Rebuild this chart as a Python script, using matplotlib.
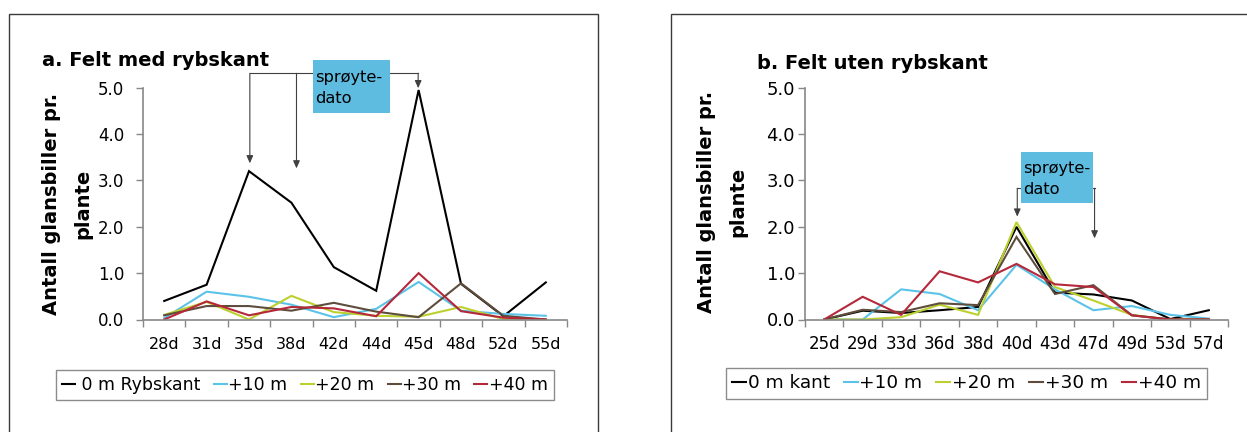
import matplotlib
matplotlib.use('Agg')
import matplotlib.pyplot as plt
from matplotlib.patches import Rectangle
import numpy as np

# ---------------- data ----------------
cats_a = ['28d', '31d', '35d', '38d', '42d', '44d', '45d', '48d', '52d', '55d']
a_0m = [0.40, 0.75, 3.20, 2.52, 1.13, 0.62, 4.95, 0.77, 0.07, 0.80]
a_10 = [0.03, 0.60, 0.49, 0.32, 0.05, 0.23, 0.81, 0.19, 0.12, 0.08]
a_20 = [0.10, 0.38, 0.00, 0.51, 0.16, 0.08, 0.06, 0.27, 0.01, 0.00]
a_30 = [0.09, 0.29, 0.29, 0.19, 0.36, 0.17, 0.05, 0.78, 0.08, 0.00]
a_40 = [0.00, 0.39, 0.09, 0.27, 0.24, 0.07, 1.00, 0.18, 0.04, 0.00]
labels_a = [' 0 m Rybskant', '+10 m', '+20 m', '+30 m', '+40 m']

cats_b = ['25d', '29d', '33d', '36d', '38d', '40d', '43d', '47d', '49d', '53d', '57d']
b_0m = [0.00, 0.19, 0.14, 0.20, 0.27, 2.00, 0.58, 0.54, 0.41, 0.01, 0.20]
b_10 = [0.00, 0.00, 0.65, 0.55, 0.20, 1.18, 0.65, 0.20, 0.29, 0.10, 0.02]
b_20 = [0.00, 0.00, 0.05, 0.32, 0.10, 2.10, 0.70, 0.41, 0.10, 0.00, 0.00]
b_30 = [0.00, 0.21, 0.16, 0.35, 0.31, 1.78, 0.55, 0.74, 0.09, 0.00, 0.00]
b_40 = [0.00, 0.49, 0.10, 1.04, 0.80, 1.20, 0.76, 0.70, 0.09, 0.00, 0.00]
labels_b = ['0 m kant', '+10 m', '+20 m', '+30 m', '+40 m']

colors = ['#000000', '#5BC3E8', '#BCD02E', '#5E4D3C', '#B5283A']
yticks = [0, 1, 2, 3, 4, 5]

# spray-date annotation positions (category index, value)
spray_a = [(2.02, 3.37), (3.12, 3.26), (5.99, 4.99)]
spray_a_bracket = 5.31
spray_b = [(5.02, 2.22), (7.03, 1.75)]
spray_b_bracket = 2.83

W, H = 1247, 432
fig = plt.figure(figsize=(W / 100, H / 100), dpi=100)
fig.patch.set_facecolor('white')

# outer chart frames
fig.add_artist(Rectangle((9 / W, -0.1), (598 - 9) / W, 0.1 + 1 - 14 / H,
                         transform=fig.transFigure, fill=False,
                         edgecolor='#3a3a3a', lw=1.0))
fig.add_artist(Rectangle((671 / W, -0.1), 0.5, 0.1 + 1 - 14 / H,
                         transform=fig.transFigure, fill=False,
                         edgecolor='#3a3a3a', lw=1.0))

y0 = 1 - 319.5 / H
y1 = 1 - 87.7 / H
ax_a = fig.add_axes([143 / W, y0, (567 - 143) / W, y1 - y0])
ax_b = fig.add_axes([805 / W, y0, (1228 - 805) / W, y1 - y0])

GRAY = '#888888'


def style(ax, cats, xfs, yfs, ypad, xpad):
    n = len(cats)
    ax.set_xlim(-0.5, n - 0.5)
    ax.set_ylim(0, 5)
    for s in ['top', 'right']:
        ax.spines[s].set_visible(False)
    for s in ['left', 'bottom']:
        ax.spines[s].set_color(GRAY)
        ax.spines[s].set_linewidth(1.2)
    ax.set_xticks(np.arange(n + 1) - 0.5)
    ax.set_xticklabels([])
    ax.set_xticks(np.arange(n), minor=True)
    ax.set_xticklabels(cats, minor=True, fontsize=xfs)
    ax.tick_params(axis='x', which='major', length=5, width=1.0, color=GRAY)
    ax.tick_params(axis='x', which='minor', length=0, pad=xpad)
    ax.set_yticks(yticks)
    ax.set_yticklabels(['%.1f' % v for v in yticks], fontsize=yfs)
    ax.tick_params(axis='y', length=5, width=1.0, color=GRAY, pad=ypad)


def draw(ax, series, labels):
    x = np.arange(len(series[0]))
    hs = []
    for s, c, l in zip(series, colors, labels):
        h, = ax.plot(x, s, color=c, lw=1.5, label=l, solid_joinstyle='miter')
        hs.append(h)
    return hs


hs_a = draw(ax_a, [a_0m, a_10, a_20, a_30, a_40], labels_a)
hs_b = draw(ax_b, [b_0m, b_10, b_20, b_30, b_40], labels_b)
style(ax_a, cats_a, 11.5, 12, 8.5, 12.5)
style(ax_b, cats_b, 12, 13, 2.2, 11.5)

# titles
fig.text(41.7 / W, 1 - 60 / H, 'a. Felt med rybskant', fontsize=14,
         fontweight='bold', va='center', ha='left')
fig.text(757.3 / W, 1 - 63.3 / H, 'b. Felt uten rybskant', fontsize=14,
         fontweight='bold', va='center', ha='left')

# y labels
ylab = 'Antall glansbiller pr.\nplante'
fig.text(67.5 / W, 1 - 204 / H, ylab, rotation=90, fontsize=14,
         fontweight='bold', ha='center', va='center', linespacing=1.85,
         multialignment='center')
fig.text(722 / W, 1 - 201.5 / H, ylab, rotation=90, fontsize=14,
         fontweight='bold', ha='center', va='center', linespacing=1.85,
         multialignment='center')

# legends
for ax, hs, labels, anchor, fs in [
        (ax_a, hs_a, labels_a, (55.5 / W, 1 - 370 / H), 12.5),
        (ax_b, hs_b, labels_b, (725.5 / W, 1 - 368 / H), 13.3)]:
    leg = fig.legend(hs, labels, loc='upper left', bbox_to_anchor=anchor,
                     bbox_transform=fig.transFigure, ncol=5, fontsize=fs,
                     frameon=True, fancybox=False, framealpha=1,
                     handlelength=0.75, handletextpad=0.1, columnspacing=0.75,
                     borderpad=0.35, borderaxespad=0)
    leg.get_frame().set_edgecolor('#8c8c8c')
    leg.get_frame().set_linewidth(1.0)

# spray-date annotations
BOX = '#5DBCDF'
ACOL = '#404040'
aprops = dict(arrowstyle='-|>,head_length=0.45,head_width=0.2',
              color=ACOL, lw=0.8, shrinkA=0, shrinkB=0, mutation_scale=10)

# panel a
xs = [p[0] for p in spray_a]
ax_a.plot([min(xs), max(xs)], [spray_a_bracket] * 2, color=ACOL, lw=0.8,
          clip_on=False, zorder=4)
for xp, tip in spray_a:
    ax_a.annotate('', xy=(xp, tip), xytext=(xp, spray_a_bracket),
                  arrowprops=aprops, annotation_clip=False, zorder=4)
ax_a.add_patch(Rectangle((3.50, 4.46), 1.82, 1.14, facecolor=BOX,
                         edgecolor='none', clip_on=False, zorder=5))
ax_a.text(3.557, 5.13, 'sprøyte-', fontsize=11.7, va='baseline', ha='left',
          zorder=6, clip_on=False)
ax_a.text(3.557, 4.66, 'dato', fontsize=11.7, va='baseline', ha='left',
          zorder=6, clip_on=False)

# panel b
xs = [p[0] for p in spray_b]
ax_b.plot([min(xs), max(xs)], [spray_b_bracket] * 2, color=ACOL, lw=0.8,
          clip_on=False, zorder=4)
for xp, tip in spray_b:
    ax_b.annotate('', xy=(xp, tip), xytext=(xp, spray_b_bracket),
                  arrowprops=aprops, annotation_clip=False, zorder=4)
ax_b.add_patch(Rectangle((5.12, 2.51), 1.88, 1.11, facecolor=BOX,
                         edgecolor='none', clip_on=False, zorder=5))
ax_b.text(5.18, 3.154, 'sprøyte-', fontsize=11.7, va='baseline', ha='left',
          zorder=6, clip_on=False)
ax_b.text(5.18, 2.707, 'dato', fontsize=11.7, va='baseline', ha='left',
          zorder=6, clip_on=False)

fig.savefig('out.png', dpi=100)
